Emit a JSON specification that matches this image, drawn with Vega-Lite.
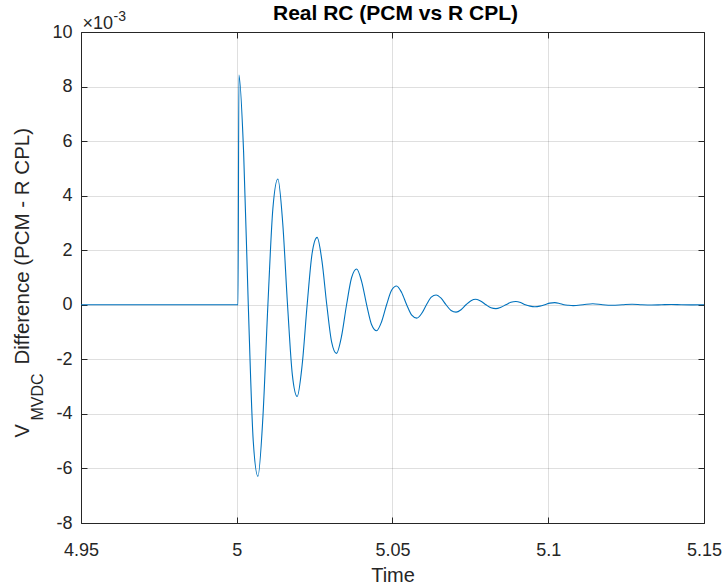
{
  "$schema": "https://vega.github.io/schema/vega-lite/v6.json",
  "autosize": {"type": "none"},
  "padding": {"left": 81, "top": 32, "right": 23, "bottom": 65},
  "width": 623,
  "height": 491,
  "background": "white",
  "config": {
    "font": "Liberation Sans",
    "view": {"stroke": null},
    "axis": {
      "domainColor": "#262626",
      "domainWidth": 1,
      "tickColor": "#262626",
      "labelColor": "#262626",
      "titleColor": "#262626",
      "gridColor": "#262626",
      "gridOpacity": 0.15,
      "labelFont": "Liberation Sans",
      "titleFont": "Liberation Sans",
      "titleFontWeight": "normal",
      "labelFlush": false
    }
  },
  "title": {
    "text": "Real RC (PCM vs R CPL)",
    "fontSize": 21,
    "fontWeight": "bold",
    "color": "#000000",
    "font": "Liberation Sans",
    "anchor": "middle",
    "frame": "group",
    "baseline": "alphabetic",
    "offset": -32,
    "dx": 3
  },
  "data": {
    "values": [
      {"t": 4.95, "d": 0}, {"t": 5.0, "d": 0}, {"t": 5.0004, "d": 0},
      {"t": 5.0007, "d": 8.42}, {"t": 5.0022, "d": 5.6}, {"t": 5.0037, "d": 0}, {"t": 5.0053, "d": -5.0},
      {"t": 5.0068, "d": -6.29}, {"t": 5.0084, "d": -4.11}, {"t": 5.01, "d": 0}, {"t": 5.0116, "d": 3.53},
      {"t": 5.0132, "d": 4.61}, {"t": 5.01475, "d": 3.01}, {"t": 5.0163, "d": 0}, {"t": 5.01785, "d": -2.57},
      {"t": 5.0194, "d": -3.36}, {"t": 5.021, "d": -2.2}, {"t": 5.0226, "d": 0}, {"t": 5.0242, "d": 1.89},
      {"t": 5.0258, "d": 2.47}, {"t": 5.02735, "d": 1.61}, {"t": 5.0289, "d": 0}, {"t": 5.03045, "d": -1.36},
      {"t": 5.032, "d": -1.78}, {"t": 5.03363, "d": -1.16}, {"t": 5.03525, "d": 0}, {"t": 5.03688, "d": 1.0},
      {"t": 5.0385, "d": 1.31}, {"t": 5.0401, "d": 0.85}, {"t": 5.0417, "d": 0}, {"t": 5.0433, "d": -0.73},
      {"t": 5.0449, "d": -0.95}, {"t": 5.0465, "d": -0.62}, {"t": 5.0481, "d": 0}, {"t": 5.0497, "d": 0.53},
      {"t": 5.0513, "d": 0.69}, {"t": 5.05293, "d": 0.45}, {"t": 5.05455, "d": 0}, {"t": 5.05618, "d": -0.38},
      {"t": 5.0578, "d": -0.49}, {"t": 5.05935, "d": -0.32}, {"t": 5.0609, "d": 0}, {"t": 5.06245, "d": 0.28},
      {"t": 5.064, "d": 0.36}, {"t": 5.0656, "d": 0.24}, {"t": 5.0672, "d": 0}, {"t": 5.0688, "d": -0.21},
      {"t": 5.0704, "d": -0.27}, {"t": 5.072, "d": -0.18}, {"t": 5.0736, "d": 0}, {"t": 5.0752, "d": 0.15},
      {"t": 5.0768, "d": 0.2}, {"t": 5.0784, "d": 0.13}, {"t": 5.08, "d": 0}, {"t": 5.0816, "d": -0.11},
      {"t": 5.0832, "d": -0.14}, {"t": 5.0848, "d": -0.09}, {"t": 5.0864, "d": 0}, {"t": 5.088, "d": 0.09},
      {"t": 5.0896, "d": 0.12}, {"t": 5.09113, "d": 0.08}, {"t": 5.09265, "d": 0}, {"t": 5.09418, "d": -0.05},
      {"t": 5.0957, "d": -0.07}, {"t": 5.0973, "d": -0.05}, {"t": 5.0989, "d": 0}, {"t": 5.1005, "d": 0.06},
      {"t": 5.1021, "d": 0.08}, {"t": 5.10358, "d": 0.05}, {"t": 5.10505, "d": 0}, {"t": 5.10653, "d": -0.02},
      {"t": 5.108, "d": -0.03}, {"t": 5.11115, "d": 0}, {"t": 5.1143, "d": 0.04}, {"t": 5.11745, "d": 0},
      {"t": 5.1206, "d": -0.02}, {"t": 5.12375, "d": 0}, {"t": 5.1269, "d": 0.02}, {"t": 5.13005, "d": 0},
      {"t": 5.1332, "d": -0.01}, {"t": 5.13635, "d": 0}, {"t": 5.1395, "d": 0.01}, {"t": 5.14265, "d": 0},
      {"t": 5.1458, "d": -0.005}, {"t": 5.15, "d": 0}
    ]
  },
  "layer": [
    {
      "mark": {"type": "line", "color": "#0072BD", "strokeWidth": 1.1, "interpolate": "monotone", "clip": true},
      "encoding": {
        "x": {
          "field": "t", "type": "quantitative",
          "scale": {"domain": [4.95, 5.15], "nice": false, "zero": false},
          "axis": {
            "orient": "bottom",
            "values": [4.95, 5.0, 5.05, 5.1, 5.15],
            "labelExpr": "toString(datum.value)",
            "grid": true,
            "tickSize": -6,
            "labelPadding": 24.7,
            "labelFontSize": 18,
            "labelBaseline": "top",
            "title": "Time",
            "titleFontSize": 20,
            "titlePadding": 6
          }
        },
        "y": {
          "field": "d", "type": "quantitative",
          "scale": {"domain": [-8, 10], "nice": false, "zero": false},
          "axis": {
            "orient": "left",
            "values": [-8, -6, -4, -2, 0, 2, 4, 6, 8, 10],
            "labelExpr": "toString(datum.value)",
            "grid": true,
            "tickSize": -6,
            "labelPadding": 15,
            "labelFontSize": 18,
            "title": "V",
            "titleFontSize": 20,
            "titleAngle": -90,
            "titleAlign": "left",
            "titleBaseline": "alphabetic",
            "titleX": -53,
            "titleY": 405
          }
        }
      }
    },
    {
      "mark": {"type": "line", "strokeOpacity": 0},
      "encoding": {
        "x": {
          "field": "t", "type": "quantitative",
          "scale": {"domain": [4.95, 5.15], "nice": false, "zero": false},
          "axis": {
            "orient": "top",
            "values": [4.95, 5.0, 5.05, 5.1, 5.15],
            "labels": false,
            "grid": false,
            "tickSize": -6,
            "title": "×10",
            "titleFontSize": 18,
            "titleAngle": 0,
            "titleAlign": "left",
            "titleBaseline": "alphabetic",
            "titleX": 1,
            "titleY": -4
          }
        },
        "y": {
          "field": "d", "type": "quantitative",
          "scale": {"domain": [-8, 10], "nice": false, "zero": false},
          "axis": {
            "orient": "right",
            "values": [-8, -6, -4, -2, 0, 2, 4, 6, 8, 10],
            "labels": false,
            "grid": false,
            "tickSize": -6,
            "title": "-3",
            "titleFontSize": 14,
            "titleAngle": 0,
            "titleAlign": "left",
            "titleBaseline": "alphabetic",
            "titleX": -591,
            "titleY": -12
          }
        }
      }
    },
    {
      "mark": {"type": "line", "strokeOpacity": 0},
      "encoding": {
        "x": {"field": "t", "type": "quantitative", "axis": null},
        "y": {
          "field": "d", "type": "quantitative",
          "axis": {
            "orient": "left",
            "labels": false, "ticks": false, "domain": false, "grid": false,
            "title": "MVDC",
            "titleFontSize": 16,
            "titleAngle": -90,
            "titleAlign": "left",
            "titleBaseline": "alphabetic",
            "titleX": -39,
            "titleY": 388
          }
        }
      }
    },
    {
      "mark": {"type": "line", "strokeOpacity": 0},
      "encoding": {
        "x": {"field": "t", "type": "quantitative", "axis": null},
        "y": {
          "field": "d", "type": "quantitative",
          "axis": {
            "orient": "left",
            "labels": false, "ticks": false, "domain": false, "grid": false,
            "title": "Difference (PCM - R CPL)",
            "titleFontSize": 20.5,
            "titleAngle": -90,
            "titleAlign": "left",
            "titleBaseline": "alphabetic",
            "titleX": -53,
            "titleY": 332
          }
        }
      }
    }
  ],
  "resolve": {"axis": {"x": "independent", "y": "independent"}}
}
